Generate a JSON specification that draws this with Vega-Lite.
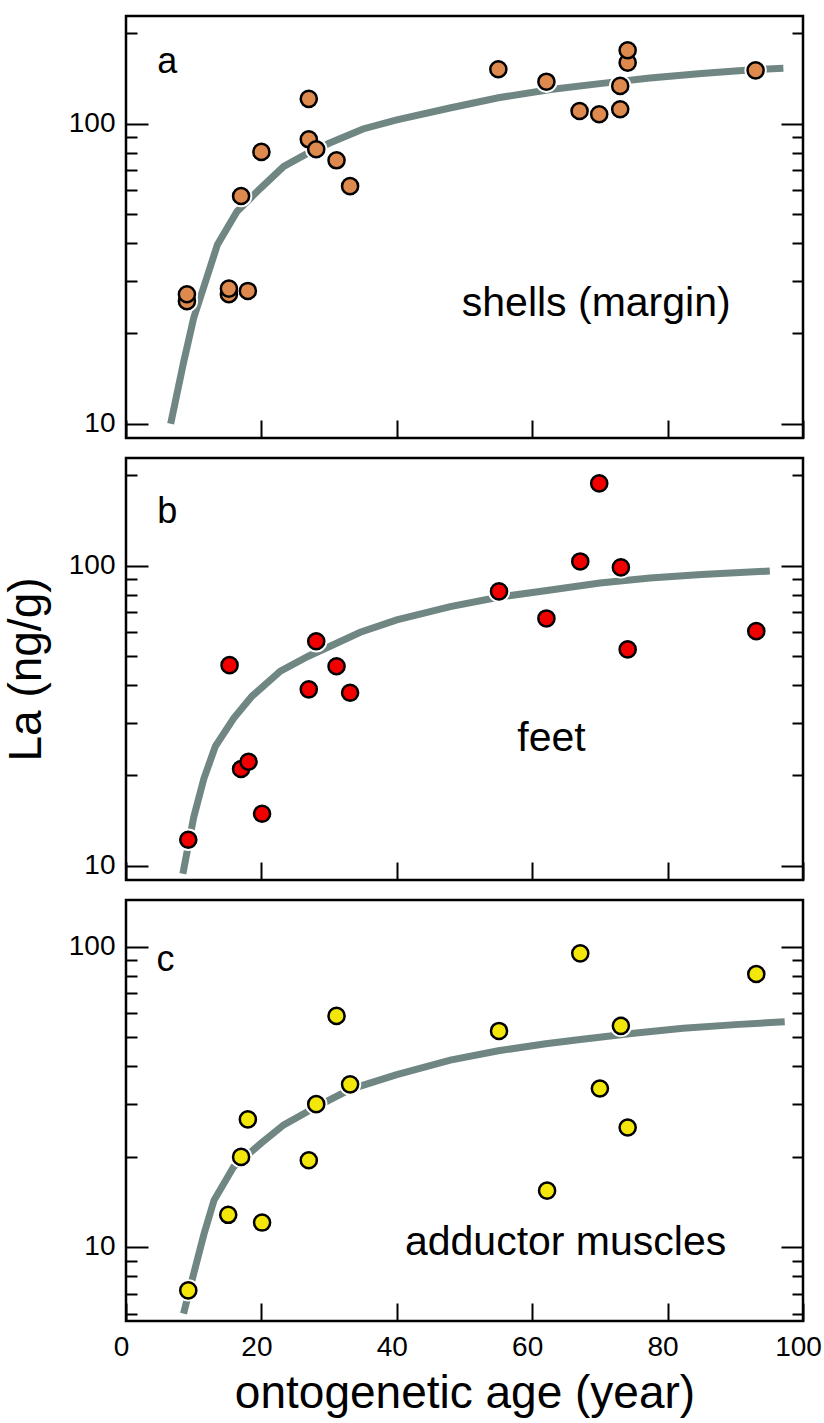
{
  "$schema": "https://vega.github.io/schema/vega-lite/v6.json",
  "padding": {"top": 14, "left": 2, "right": 4, "bottom": 0},
  "spacing": 15,
  "datasets": {
    "pa": [
      {"age": 9.0, "La": 25.6}, {"age": 9.0, "La": 27.0},
      {"age": 15.2, "La": 27.0}, {"age": 15.2, "La": 28.2},
      {"age": 18.0, "La": 27.7}, {"age": 17.0, "La": 57.4},
      {"age": 20.0, "La": 80.5}, {"age": 27.0, "La": 121},
      {"age": 27.0, "La": 88.7}, {"age": 28.1, "La": 82.2},
      {"age": 31.1, "La": 75.5}, {"age": 33.1, "La": 61.9},
      {"age": 55.0, "La": 151.8}, {"age": 62.1, "La": 138},
      {"age": 67.0, "La": 110.2}, {"age": 69.9, "La": 107.5},
      {"age": 73.0, "La": 111.7}, {"age": 73.0, "La": 133.6},
      {"age": 74.1, "La": 159.7}, {"age": 74.1, "La": 175.7},
      {"age": 93.0, "La": 150.6}
    ],
    "la": [
      {"age": 6.6, "La": 10}, {"age": 8.5, "La": 16}, {"age": 10, "La": 22.5},
      {"age": 12, "La": 31}, {"age": 13.5, "La": 39.5}, {"age": 16.4, "La": 51},
      {"age": 19.9, "La": 61}, {"age": 23.3, "La": 72}, {"age": 27, "La": 80},
      {"age": 30, "La": 86}, {"age": 35, "La": 96}, {"age": 40, "La": 103},
      {"age": 48, "La": 113}, {"age": 55, "La": 122}, {"age": 62.7, "La": 130},
      {"age": 70, "La": 136}, {"age": 77.4, "La": 142}, {"age": 85, "La": 147},
      {"age": 92, "La": 151}, {"age": 97.1, "La": 153}
    ],
    "ta": [
      {"age": 4.6, "La": 147, "label": "a", "size": 36},
      {"age": 49.6, "La": 22.9, "label": "shells (margin)", "size": 41}
    ],
    "pb": [
      {"age": 9.2, "La": 12.2}, {"age": 15.3, "La": 46.6},
      {"age": 17.0, "La": 21.0}, {"age": 18.1, "La": 22.2},
      {"age": 20.1, "La": 14.9}, {"age": 27.0, "La": 38.7},
      {"age": 28.1, "La": 56.0}, {"age": 31.1, "La": 46.2},
      {"age": 33.1, "La": 37.7}, {"age": 55.1, "La": 82.1},
      {"age": 62.1, "La": 66.7}, {"age": 67.1, "La": 103.3},
      {"age": 69.9, "La": 188}, {"age": 73.1, "La": 98.7},
      {"age": 74.1, "La": 52.6}, {"age": 93.1, "La": 60.5}
    ],
    "lb": [
      {"age": 8.4, "La": 9.4}, {"age": 10, "La": 14.5}, {"age": 11.5, "La": 19.5},
      {"age": 13.2, "La": 25}, {"age": 15.9, "La": 31}, {"age": 18.6, "La": 36.7},
      {"age": 22.8, "La": 44.5}, {"age": 27, "La": 50}, {"age": 30.7, "La": 54.6},
      {"age": 34.6, "La": 60}, {"age": 40, "La": 66}, {"age": 47.9, "La": 73},
      {"age": 55, "La": 78.5}, {"age": 62.7, "La": 83}, {"age": 70, "La": 87.5},
      {"age": 77.4, "La": 91}, {"age": 85, "La": 93.5}, {"age": 95.1, "La": 96}
    ],
    "tb": [
      {"age": 4.6, "La": 138.6, "label": "b", "size": 36},
      {"age": 57.8, "La": 24.1, "label": "feet", "size": 41}
    ],
    "pc": [
      {"age": 9.2, "La": 7.17}, {"age": 15.1, "La": 12.8},
      {"age": 20.1, "La": 12.06}, {"age": 17.0, "La": 19.95},
      {"age": 18.0, "La": 26.6}, {"age": 27.0, "La": 19.45},
      {"age": 28.1, "La": 29.9}, {"age": 31.1, "La": 58.8},
      {"age": 33.1, "La": 34.8}, {"age": 55.1, "La": 52.4},
      {"age": 62.2, "La": 15.4}, {"age": 67.1, "La": 95.0},
      {"age": 70.0, "La": 33.7}, {"age": 73.1, "La": 54.5},
      {"age": 74.1, "La": 25.0}, {"age": 93.1, "La": 81.1}
    ],
    "lc": [
      {"age": 8.5, "La": 6.0}, {"age": 10, "La": 8.15}, {"age": 11.5, "La": 11},
      {"age": 13, "La": 14.3}, {"age": 15.9, "La": 18.5}, {"age": 19.9, "La": 22.1},
      {"age": 23.3, "La": 25.5}, {"age": 28.1, "La": 29.3}, {"age": 33.1, "La": 33.5},
      {"age": 40, "La": 37.5}, {"age": 47.9, "La": 41.9}, {"age": 55, "La": 45},
      {"age": 62, "La": 47.5}, {"age": 67.1, "La": 49.1}, {"age": 75, "La": 51.5},
      {"age": 82.3, "La": 53.5}, {"age": 90, "La": 55}, {"age": 97.3, "La": 56.2}
    ],
    "tc": [
      {"age": 4.5, "La": 83.2, "label": "c", "size": 36},
      {"age": 41.2, "La": 9.38, "label": "adductor muscles", "size": 41}
    ]
  },
  "vconcat": [
    {
      "width": 677, "height": 422,
      "resolve": {"axis": {"y": "independent"}},
      "layer": [
        {
          "data": {"name": "la"},
          "mark": {"type": "line", "color": "#6F8682", "strokeWidth": 7, "clip": true},
          "encoding": {
            "x": {"field": "age", "type": "quantitative", "scale": {"domain": [0, 100], "nice": false},
              "axis": {"values": [0, 20, 40, 60, 80, 100], "labels": false, "tickSize": -18, "title": null}},
            "y": {"field": "La", "type": "quantitative", "scale": {"type": "log", "domain": [8.96, 228.5], "nice": false},
              "axis": {"values": [10, 20, 30, 40, 50, 60, 70, 80, 90, 100, 200],
                "labelExpr": "datum.value == 10 || datum.value == 100 ? datum.label : ''",
                "tickSize": {"condition": {"test": "datum.value == 10 || datum.value == 100", "value": -22}, "value": -11},
                "labelPadding": 33, "labelFontSize": 28, "title": null}}
          }
        },
        {
          "data": {"name": "pa"},
          "mark": {"type": "point", "shape": "circle", "filled": true, "color": "white", "size": 500, "opacity": 1},
          "encoding": {
            "x": {"field": "age", "type": "quantitative"},
            "y": {"field": "La", "type": "quantitative", "scale": {"type": "log", "domain": [8.96, 228.5], "nice": false}, "axis": null}
          }
        },
        {
          "data": {"name": "pa"},
          "mark": {"type": "point", "shape": "circle", "filled": true, "fill": "#DE8A4E", "stroke": "black", "strokeWidth": 2.5, "size": 260, "opacity": 1},
          "encoding": {
            "x": {"field": "age", "type": "quantitative"},
            "y": {"field": "La", "type": "quantitative", "scale": {"type": "log", "domain": [8.96, 228.5], "nice": false},
              "axis": {"orient": "right", "values": [10, 20, 30, 40, 50, 60, 70, 80, 90, 100, 200], "labels": false,
                "tickSize": {"condition": {"test": "datum.value == 10 || datum.value == 100", "value": -22}, "value": -11}, "title": null}}
          }
        },
        {
          "data": {"name": "ta"},
          "mark": {"type": "text", "align": "left", "baseline": "alphabetic", "font": "Liberation Sans", "color": "black"},
          "encoding": {
            "x": {"field": "age", "type": "quantitative"},
            "y": {"field": "La", "type": "quantitative", "scale": {"type": "log", "domain": [8.96, 228.5], "nice": false}, "axis": null},
            "text": {"field": "label"},
            "size": {"field": "size", "type": "quantitative", "scale": null, "legend": null}
          }
        }
      ]
    },
    {
      "width": 677, "height": 422,
      "resolve": {"axis": {"y": "independent"}},
      "layer": [
        {
          "data": {"name": "lb"},
          "mark": {"type": "line", "color": "#6F8682", "strokeWidth": 7, "clip": true},
          "encoding": {
            "x": {"field": "age", "type": "quantitative", "scale": {"domain": [0, 100], "nice": false},
              "axis": {"values": [0, 20, 40, 60, 80, 100], "labels": false, "tickSize": -18, "title": null}},
            "y": {"field": "La", "type": "quantitative", "scale": {"type": "log", "domain": [8.96, 228.5], "nice": false},
              "axis": {"values": [10, 20, 30, 40, 50, 60, 70, 80, 90, 100, 200],
                "labelExpr": "datum.value == 10 || datum.value == 100 ? datum.label : ''",
                "tickSize": {"condition": {"test": "datum.value == 10 || datum.value == 100", "value": -22}, "value": -11},
                "labelPadding": 33, "labelFontSize": 28,
                "title": "La (ng/g)", "titleFontSize": 46, "titlePadding": 18}}
          }
        },
        {
          "data": {"name": "pb"},
          "mark": {"type": "point", "shape": "circle", "filled": true, "color": "white", "size": 500, "opacity": 1},
          "encoding": {
            "x": {"field": "age", "type": "quantitative"},
            "y": {"field": "La", "type": "quantitative", "scale": {"type": "log", "domain": [8.96, 228.5], "nice": false}, "axis": null}
          }
        },
        {
          "data": {"name": "pb"},
          "mark": {"type": "point", "shape": "circle", "filled": true, "fill": "#F20000", "stroke": "black", "strokeWidth": 2.5, "size": 260, "opacity": 1},
          "encoding": {
            "x": {"field": "age", "type": "quantitative"},
            "y": {"field": "La", "type": "quantitative", "scale": {"type": "log", "domain": [8.96, 228.5], "nice": false},
              "axis": {"orient": "right", "values": [10, 20, 30, 40, 50, 60, 70, 80, 90, 100, 200], "labels": false,
                "tickSize": {"condition": {"test": "datum.value == 10 || datum.value == 100", "value": -22}, "value": -11}, "title": null}}
          }
        },
        {
          "data": {"name": "tb"},
          "mark": {"type": "text", "align": "left", "baseline": "alphabetic", "font": "Liberation Sans", "color": "black"},
          "encoding": {
            "x": {"field": "age", "type": "quantitative"},
            "y": {"field": "La", "type": "quantitative", "scale": {"type": "log", "domain": [8.96, 228.5], "nice": false}, "axis": null},
            "text": {"field": "label"},
            "size": {"field": "size", "type": "quantitative", "scale": null, "legend": null}
          }
        }
      ]
    },
    {
      "width": 677, "height": 421,
      "resolve": {"axis": {"y": "independent"}},
      "layer": [
        {
          "data": {"name": "lc"},
          "mark": {"type": "line", "color": "#6F8682", "strokeWidth": 7, "clip": true},
          "encoding": {
            "x": {"field": "age", "type": "quantitative", "scale": {"domain": [0, 100], "nice": false},
              "axis": {"values": [0, 20, 40, 60, 80, 100], "tickSize": -18, "labelPadding": 30, "labelFontSize": 28, "labelFlush": false, "labelOffset": -5,
                "title": "ontogenetic age (year)", "titleFontSize": 46, "titlePadding": 10}},
            "y": {"field": "La", "type": "quantitative", "scale": {"type": "log", "domain": [5.67, 143], "nice": false},
              "axis": {"values": [6, 7, 8, 9, 10, 20, 30, 40, 50, 60, 70, 80, 90, 100],
                "labelExpr": "datum.value == 10 || datum.value == 100 ? datum.label : ''",
                "tickSize": {"condition": {"test": "datum.value == 10 || datum.value == 100", "value": -22}, "value": -11},
                "labelPadding": 33, "labelFontSize": 28, "title": null}}
          }
        },
        {
          "data": {"name": "pc"},
          "mark": {"type": "point", "shape": "circle", "filled": true, "color": "white", "size": 500, "opacity": 1},
          "encoding": {
            "x": {"field": "age", "type": "quantitative"},
            "y": {"field": "La", "type": "quantitative", "scale": {"type": "log", "domain": [5.67, 143], "nice": false}, "axis": null}
          }
        },
        {
          "data": {"name": "pc"},
          "mark": {"type": "point", "shape": "circle", "filled": true, "fill": "#F2E60A", "stroke": "black", "strokeWidth": 2.5, "size": 260, "opacity": 1},
          "encoding": {
            "x": {"field": "age", "type": "quantitative"},
            "y": {"field": "La", "type": "quantitative", "scale": {"type": "log", "domain": [5.67, 143], "nice": false},
              "axis": {"orient": "right", "values": [6, 7, 8, 9, 10, 20, 30, 40, 50, 60, 70, 80, 90, 100], "labels": false,
                "tickSize": {"condition": {"test": "datum.value == 10 || datum.value == 100", "value": -22}, "value": -11}, "title": null}}
          }
        },
        {
          "data": {"name": "tc"},
          "mark": {"type": "text", "align": "left", "baseline": "alphabetic", "font": "Liberation Sans", "color": "black"},
          "encoding": {
            "x": {"field": "age", "type": "quantitative"},
            "y": {"field": "La", "type": "quantitative", "scale": {"type": "log", "domain": [5.67, 143], "nice": false}, "axis": null},
            "text": {"field": "label"},
            "size": {"field": "size", "type": "quantitative", "scale": null, "legend": null}
          }
        }
      ]
    }
  ],
  "config": {
    "view": {"stroke": "black", "strokeWidth": 2.5},
    "axis": {"labelFont": "Liberation Sans", "titleFont": "Liberation Sans", "labelColor": "black", "titleColor": "black",
      "tickColor": "black", "tickWidth": 2, "domain": false, "grid": false, "titleFontWeight": "normal"}
  }
}
